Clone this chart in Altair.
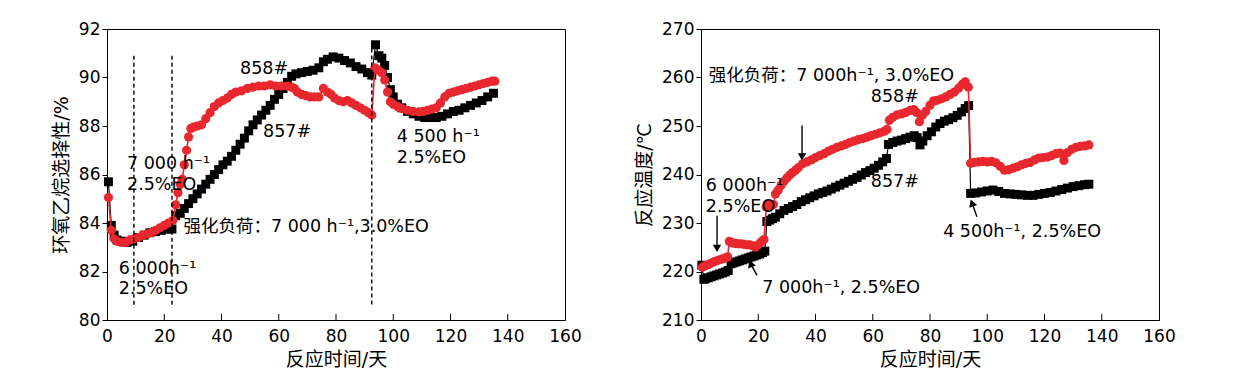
import altair as alt
import pandas as pd

# ---------------- data ----------------
# Left panel: EO selectivity (%)
t_b1 = [0.5, 1.5, 2.5, 3.5, 5, 7, 9, 11, 13, 15, 17, 19, 21, 22.7, 24, 25.6, 27, 28.5, 30, 31.5, 33, 34.5, 36, 37.5, 39, 40.5, 42, 43.5, 45, 46.5, 48, 49.5, 51, 52.5, 54, 55.5, 57, 58.5, 60, 61.5, 63, 64.5, 66, 68, 70, 72, 74, 75.6, 77, 79, 81, 83, 85, 87, 89, 91, 92.5, 93.8, 95, 96, 97, 98, 99, 100, 101.5, 103, 105, 107, 109, 111, 113, 115, 117, 119, 121, 123, 125, 127, 129, 131, 133, 135]
v_b1 = [85.7, 83.9, 83.5, 83.3, 83.25, 83.2, 83.25, 83.4, 83.5, 83.6, 83.65, 83.7, 83.75, 83.75, 84.3, 84.4, 84.6, 84.8, 85.0, 85.2, 85.4, 85.6, 85.8, 86.0, 86.2, 86.4, 86.55, 86.75, 87.0, 87.25, 87.5, 87.8, 88.05, 88.25, 88.45, 88.65, 88.85, 89.1, 89.3, 89.55, 89.8, 90.05, 90.15, 90.2, 90.25, 90.3, 90.4, 90.65, 90.75, 90.85, 90.8, 90.7, 90.6, 90.45, 90.35, 90.2, 90.1, 91.35, 90.9, 90.8, 90.5, 90.0, 89.5, 89.2, 88.9, 88.75, 88.6, 88.5, 88.4, 88.35, 88.35, 88.35, 88.4, 88.5, 88.6, 88.65, 88.75, 88.85, 88.95, 89.05, 89.2, 89.35]

t_r1 = [0.5, 1.5, 2.5, 3.5, 5, 6.5, 8, 9.5, 11, 12.5, 14, 15.5, 17, 18.5, 20, 21.5, 23, 24, 24.8, 25.6, 26.3, 27, 27.8, 28.5, 29.3, 30.2, 31.5, 33, 34.5, 36, 37.5, 39, 40.5, 42, 43.5, 45, 47, 49, 51, 53, 55, 57, 59, 61, 63, 64.5, 65.5, 66.5, 68, 69.5, 71, 72.5, 74, 75.6, 77, 78.3, 79.5, 81, 82.5, 84, 85.5, 87, 88.5, 90, 91.3, 92.5, 93.6, 94.8, 96, 97, 98, 99, 100, 101.5, 103, 105, 107, 109, 110.5, 112, 113.5, 115, 116.5, 118, 119.5, 121, 122.5, 124, 125.5, 127, 128.5, 130, 131.5, 133, 134.5, 135.5]
v_r1 = [85.05, 83.7, 83.35, 83.25, 83.2, 83.2, 83.3, 83.35, 83.4, 83.5, 83.55, 83.6, 83.7, 83.8, 83.9, 84.0, 84.1, 84.75, 85.25, 85.6, 85.8, 86.4, 87.0, 87.55, 87.9, 87.95, 88.0, 88.05, 88.3, 88.55, 88.8, 88.95, 89.05, 89.15, 89.3, 89.4, 89.45, 89.55, 89.6, 89.65, 89.65, 89.7, 89.65, 89.65, 89.65, 89.6, 89.55, 89.4, 89.3, 89.25, 89.2, 89.2, 89.2, 89.55, 89.4, 89.3, 89.15, 89.05, 89.0, 89.05, 88.95, 88.85, 88.75, 88.65, 88.55, 88.45, 90.4, 90.3, 90.2, 89.9, 89.4, 89.0, 88.9, 88.8, 88.72, 88.65, 88.6, 88.58, 88.6, 88.65, 88.7, 88.75, 88.95, 89.2, 89.35, 89.4, 89.45, 89.5, 89.55, 89.6, 89.65, 89.7, 89.75, 89.8, 89.85, 89.85]

# Right panel: reaction temperature (°C)
t_b2 = [0.3, 1.0, 1.5, 2.5, 3.5, 4.5, 5.5, 6.5, 7.5, 8.5, 9.5, 10.5, 11.5, 12.5, 13.5, 14.5, 15.5, 16.5, 17.5, 18.5, 19.5, 20.5, 21.5, 22.3, 23, 24, 25, 26, 27.5, 29, 30.5, 32, 33.5, 35, 36.5, 38, 39.5, 41, 42.5, 44, 45.5, 47, 48.5, 50, 51.5, 53, 54.5, 56, 57.5, 59, 60.5, 62, 63.5, 64.8, 65.5, 67, 68.5, 70, 71.5, 73, 74.5, 75.5, 76.5, 77.5, 79, 80.5, 82, 83.5, 85, 86.5, 88, 89.5, 91, 92.3, 93.5, 94.2, 96, 98, 100, 102, 104, 106, 108, 110, 112, 114, 116, 118, 120, 122, 124, 126, 128, 130, 132, 134, 135.5]
v_b2 = [221.3, 218.4, 218.5, 218.7, 218.9, 219.1, 219.3, 219.5, 219.7, 219.9, 220.2, 221.6, 221.8, 222.0, 222.2, 222.4, 222.6, 222.8, 223.0, 223.2, 223.4, 223.6, 223.9, 224.2, 230.3, 230.6, 230.9, 231.2, 231.9, 232.6, 233.0, 233.4, 233.8, 234.4, 234.8, 235.2, 235.6, 236.0, 236.3, 236.6, 237.0, 237.4, 237.8, 238.2, 238.6, 239.0, 239.4, 239.9, 240.4, 240.8, 241.3, 241.9, 242.6, 243.3, 246.2, 246.6, 246.9, 247.1, 247.4, 247.7, 248.0, 247.6, 246.1, 246.9, 248.0, 248.8, 249.8, 250.5, 251.0, 251.3, 251.7, 252.2, 252.9, 253.6, 254.2, 236.1, 236.2, 236.4, 236.6, 236.8, 236.5, 236.1, 236.0, 235.9, 235.8, 235.7, 235.7, 235.9, 236.1, 236.3, 236.6, 236.9, 237.2, 237.5, 237.7, 237.9, 238.0]

t_r2 = [0.5, 1.5, 2.5, 3.5, 4.5, 5.5, 6.5, 7.5, 8.5, 9.3, 9.9, 11, 12, 13, 14, 15, 16, 17, 18, 19, 20, 21, 22, 22.8, 23.5, 24.5, 25.3, 26, 27, 28, 29, 30, 31, 32, 33, 34, 35.5, 37, 38.5, 40, 41.5, 43, 44.5, 46, 47.5, 49, 50.5, 52, 53.5, 55, 56.5, 58, 59.5, 61, 62.5, 64, 65, 65.8, 67, 68.5, 70, 71.5, 73, 74.3, 75.3, 76.3, 77.3, 78.5, 80, 81.3, 82.5, 84, 85.5, 87, 88.5, 90, 91.3, 92.3, 93.4, 94.2, 95.5, 97, 98.5, 100, 101.5, 103, 104.5, 106, 107.5, 109, 110.5, 112, 113.5, 115, 116.5, 118, 119.5, 121, 122.5, 124, 125.5, 126.8, 128, 129.5, 131, 132.5, 134, 135.5]
v_r2 = [220.9, 221.2, 221.4, 221.7, 222.0, 222.2, 222.4, 222.6, 222.8, 223.0, 226.2, 225.9, 225.8, 225.7, 225.7, 225.6, 225.5, 225.5, 225.3, 225.0, 225.5, 226.1, 226.6, 233.3, 233.8, 233.6, 233.8, 236.0, 236.8, 237.8, 238.6, 239.3, 239.9, 240.4, 240.9, 241.4, 242.2, 242.6, 243.0, 243.5, 243.9, 244.3, 244.8, 245.2, 245.6, 245.9, 246.2, 246.6, 246.9, 247.2, 247.4, 247.7, 248.0, 248.3, 248.6, 248.9, 249.3, 251.2, 251.8, 252.3, 252.5, 252.8, 253.2, 253.4, 252.8, 250.9, 252.2, 253.0, 254.3, 255.2, 255.3, 255.6, 256.0, 256.5, 257.0, 257.8, 258.6, 259.1, 258.0, 242.3, 242.5, 242.6, 242.7, 242.6, 242.7, 242.4, 241.7, 240.9, 241.0, 241.3, 241.6, 242.0, 242.3, 242.5, 243.0, 243.4, 243.5, 243.6, 243.9, 244.3, 244.4, 242.9, 244.5, 245.2, 245.6, 245.8, 245.9, 246.1]

# axis ticks
x_ticks = [0, 20, 40, 60, 80, 100, 120, 140, 160]
y_ticks1 = [80, 82, 84, 86, 88, 90, 92]
y_ticks2 = [210, 220, 230, 240, 250, 260, 270]

# annotations, left panel
lab1_text = ["7 000 h⁻¹", "2.5%EO", "强化负荷：7 000 h⁻¹,3.0%EO", "6 000h⁻¹", "2.5%EO", "858#", "857#", "4 500 h⁻¹", "2.5%EO"]
lab1_t = [7.0, 7.0, 26.7, 4.1, 4.1, 46.5, 54.5, 101.2, 101.2]
lab1_v = [86.45, 85.55, 83.83, 82.1, 81.28, 90.35, 87.75, 87.55, 86.68]
dash_t = [9.4, 22.7, 92.5]
dash_top = [90.9, 90.9, 91.2]
dash_bot = [80.5, 80.5, 80.6]

# annotations, right panel
lab2_text = ["强化负荷：7 000h⁻¹, 3.0%EO", "858#", "857#", "6 000h⁻¹", "2.5%EO", "7 000h⁻¹, 2.5%EO", "4 500h⁻¹, 2.5%EO"]
lab2_t = [2.7, 59.3, 59.3, 1.7, 1.7, 21.4, 84.6]
lab2_v = [260.3, 256.0, 238.4, 237.7, 233.2, 216.7, 228.1]
arr_t_tail = [5.6, 35.3, 19.6, 96.4]
arr_v_tail = [231.5, 250.1, 219.2, 231.3]
arr_t_head = [5.6, 35.3, 17.5, 94.8]
arr_v_head = [225.0, 243.9, 221.4, 233.9]
arr_angle = [180, 180, 338, 340]

# ---------------- styling ----------------
FONT = "DejaVu Sans, Noto Sans CJK SC"
RED = "#e8282e"
W, H = 458, 291


def panel(t_b, v_b, t_r, v_r, ydom, yticks, ytitle, labels, extra):
    X = alt.X("t:Q", scale=alt.Scale(domain=[0, 160], nice=False, zero=False),
              axis=alt.Axis(values=x_ticks, title="反应时间/天", ticks=False, labelPadding=8,
                            titlePadding=6, labelFlush=False, grid=False, format="d"))
    Y = alt.Y("v:Q", scale=alt.Scale(domain=ydom, nice=False, zero=False),
              axis=alt.Axis(values=yticks, title=ytitle, tickSize=5, labelPadding=2,
                            titlePadding=7, labelFlush=False, grid=False, format="d"))
    df_b = pd.DataFrame({"t": t_b, "v": v_b})
    df_r = pd.DataFrame({"t": t_r, "v": v_r})
    layers = []
    layers.append(alt.Chart(df_b).mark_line(color="black", strokeWidth=1.2).encode(x=X, y=Y))
    layers.append(alt.Chart(df_b).mark_point(shape="square", filled=True, color="black",
                                             size=80, opacity=1).encode(x=X, y=Y))
    layers.append(alt.Chart(df_r).mark_line(color=RED, strokeWidth=1.6).encode(x=X, y=Y))
    layers.append(alt.Chart(df_r).mark_point(shape="circle", filled=True, color=RED,
                                             size=85, opacity=1).encode(x=X, y=Y))
    # inward x ticks
    tick_df = pd.DataFrame({"t": x_ticks[1:-1]})
    layers.append(alt.Chart(tick_df).mark_rule(color="black", strokeWidth=1).encode(
        x=X, y=alt.value(H), y2=alt.value(H - 6)))
    layers.extend(extra(X, Y))
    lab_df = pd.DataFrame({"t": labels[1], "v": labels[2], "label": labels[0]})
    layers.append(alt.Chart(lab_df).mark_text(align="left", baseline="middle", font=FONT,
                                              fontSize=17.5, color="black").encode(
        x=X, y=Y, text="label:N"))
    return alt.layer(*layers).properties(width=W, height=H)


def extra_left(X, Y):
    d = pd.DataFrame({"t": dash_t, "v": dash_top, "v2": dash_bot})
    return [alt.Chart(d).mark_rule(color="black", strokeWidth=1.4, strokeDash=[4, 3]).encode(
        x=X, y=Y, y2="v2:Q")]


def extra_right(X, Y):
    d = pd.DataFrame({"t": arr_t_tail, "v": arr_v_tail, "t2": arr_t_head, "v2": arr_v_head,
                      "ang": arr_angle})
    return [
        alt.Chart(d).mark_rule(color="black", strokeWidth=1.4).encode(
            x=X, y=Y, x2="t2:Q", y2="v2:Q"),
        alt.Chart(d).mark_point(shape="triangle", filled=True, color="black", size=70,
                                opacity=1).encode(
            x=alt.X("t2:Q", scale=alt.Scale(domain=[0, 160], nice=False, zero=False)),
            y=alt.Y("v2:Q", scale=alt.Scale(domain=[210, 270], nice=False, zero=False)),
            angle=alt.Angle("ang:Q", scale=None)),
    ]


left = panel(t_b1, v_b1, t_r1, v_r1, [80, 92], y_ticks1, "环氧乙烷选择性/%",
             (lab1_text, lab1_t, lab1_v), extra_left)
right = panel(t_b2, v_b2, t_r2, v_r2, [210, 270], y_ticks2, "反应温度/℃",
              (lab2_text, lab2_t, lab2_v), extra_right)

chart = alt.hconcat(left, right, spacing=53).properties(
    padding={"left": 43, "top": 11, "right": 5, "bottom": 5}
).configure_view(stroke="black", strokeWidth=1).configure_axis(
    domainColor="black", tickColor="black", labelColor="black", titleColor="black",
    labelFont=FONT, titleFont=FONT, labelFontSize=17, titleFontSize=19,
    titleFontWeight="normal", domainWidth=1, tickWidth=1
)

chart.save("out.html", embed_options={"renderer": "svg", "actions": False})
